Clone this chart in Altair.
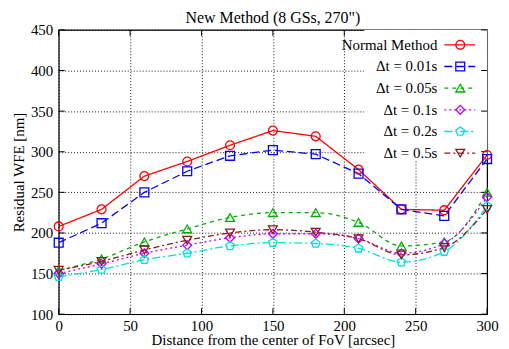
import altair as alt
import pandas as pd

distance = [0, 30, 60, 90, 120, 150, 180, 210, 240, 270, 300]
series_names = ["Normal Method", "Δt = 0.01s", "Δt = 0.05s", "Δt = 0.1s", "Δt = 0.2s", "Δt = 0.5s"]
normal = [208, 229, 270, 288, 308, 326, 319, 278, 229, 228, 296]
dt001 = [188, 212, 250, 276, 295, 302, 297, 273, 229, 221, 291]
dt005 = [154, 168, 189, 205, 219, 225, 225, 213, 184, 189, 250]
dt01 = [150, 162, 175, 185, 194, 199, 199, 193, 175, 187, 244]
dt02 = [146, 155, 167, 175, 184, 188, 187, 181, 164, 177, 233]
dt05 = [154, 165, 179, 191, 200, 204, 201, 193, 173, 182, 229]
all_values = [normal, dt001, dt005, dt01, dt02, dt05]

x_ticks = [0, 50, 100, 150, 200, 250, 300]
y_ticks = [100, 150, 200, 250, 300, 350, 400, 450]

colors = ["#ff0000", "#0000ff", "#00b000", "#c000ff", "#00e0e0", "#8b1a1a"]
dashes = [[1, 0], [8, 4], [4, 4], [2, 3], [8, 3, 2, 3], [6, 3, 2, 3]]
pentagon = "M0,-1L0.951,-0.309L0.588,0.809L-0.588,0.809L-0.951,-0.309Z"
shapes = ["circle", "square", "triangle-up", "diamond", pentagon, "triangle-down"]

rows = []
for name, vals in zip(series_names, all_values):
    for d, v in zip(distance, vals):
        rows.append({"distance": d, "wfe": v, "series": name})
df = pd.DataFrame(rows)
legend_df = pd.DataFrame({"series": series_names})
xt_df = pd.DataFrame({"distance": x_ticks})
yt_df = pd.DataFrame({"wfe": y_ticks})

FONT = "Liberation Serif"
color_enc = alt.Color("series:N", scale=alt.Scale(domain=series_names, range=colors), legend=None)
dash_enc = alt.StrokeDash("series:N", scale=alt.Scale(domain=series_names, range=dashes), legend=None)
shape_enc = alt.Shape("series:N", scale=alt.Scale(domain=series_names, range=shapes), legend=None)

xenc = alt.X("distance:Q", scale=alt.Scale(domain=[0, 300], nice=False),
             axis=alt.Axis(values=x_ticks,
                           title="Distance from the center of FoV [arcsec]",
                           labelFont=FONT, titleFont=FONT, labelFlush=False,
                           labelPadding=4, titlePadding=0))
yenc = alt.Y("wfe:Q", scale=alt.Scale(domain=[100, 450], nice=False, zero=False),
             axis=alt.Axis(values=y_ticks,
                           title="Residual WFE [nm]", labelFont=FONT, titleFont=FONT,
                           labelPadding=6, titlePadding=4))

base = alt.Chart(df).encode(x=xenc, y=yenc, color=color_enc)

lines_straight = base.transform_filter(
    alt.FieldOneOfPredicate(field="series", oneOf=series_names[:2])
).mark_line(strokeWidth=1.3).encode(strokeDash=dash_enc)

lines_smooth = base.transform_filter(
    alt.FieldOneOfPredicate(field="series", oneOf=series_names[2:])
).mark_line(strokeWidth=1.3, interpolate="monotone").encode(strokeDash=dash_enc)

points = base.mark_point(filled=False, size=80, strokeWidth=1.3, opacity=1).encode(shape=shape_enc)

box = alt.Chart(legend_df).mark_rect(color="white").encode(
    x=alt.value(308), x2=alt.value(431), y=alt.value(0), y2=alt.value(131))

# inward border ticks (gnuplot style)
xt_bottom = alt.Chart(xt_df).mark_rule(color="black", strokeWidth=1).encode(
    x=xenc, y=alt.value(286), y2=alt.value(280))
xt_top = alt.Chart(xt_df).mark_rule(color="black", strokeWidth=1).encode(
    x=xenc, y=alt.value(0), y2=alt.value(6))
yt_left = alt.Chart(yt_df).mark_rule(color="black", strokeWidth=1).encode(
    y=yenc, x=alt.value(0), x2=alt.value(6))
yt_right = alt.Chart(yt_df).mark_rule(color="black", strokeWidth=1).encode(
    y=yenc, x=alt.value(425), x2=alt.value(431))

data_layer = alt.layer(xt_bottom, xt_top, box, yt_left, yt_right, lines_straight, lines_smooth, points)

ly = alt.Y("series:N", scale=alt.Scale(domain=series_names, range=[15, 124], type="point", padding=0), axis=None)
leg_base = alt.Chart(legend_df)
leg_lines = leg_base.mark_rule(strokeWidth=1.3).encode(
    x=alt.value(388), x2=alt.value(419), y=ly, color=color_enc, strokeDash=dash_enc)
leg_points = leg_base.mark_point(filled=False, size=80, strokeWidth=1.3, opacity=1).encode(
    x=alt.value(404), y=ly, color=color_enc, shape=shape_enc)
leg_text = leg_base.mark_text(align="right", baseline="middle", font=FONT, fontSize=15, color="black").encode(
    x=alt.value(381), y=ly, text="series:N")
legend_layer = alt.layer(leg_lines, leg_points, leg_text)

chart = alt.layer(data_layer, legend_layer).resolve_scale(y="independent").properties(
    width=431, height=286,
    padding={"left": 51, "top": 21, "right": 14, "bottom": 34},
    autosize=alt.AutoSizeParams(type="none"),
    title=alt.Title('New Method (8 GSs, 270")', font=FONT, fontSize=16, fontWeight="normal",
                    offset=6, dy=9, anchor="middle", frame="group", color="black"),
).configure_view(
    stroke="black", strokeWidth=1.2
).configure_axis(
    labelFont=FONT, titleFont=FONT, labelFontSize=15, titleFontSize=15,
    titleFontWeight="normal", labelColor="black", titleColor="black",
    grid=True, gridColor="black", gridDash=[1, 2], gridOpacity=0.9, gridWidth=1,
    domain=False, ticks=False,
)

chart.save("out.html", embed_options={"renderer": "svg", "actions": False})
